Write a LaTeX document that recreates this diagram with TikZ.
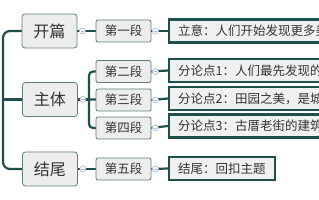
\documentclass[tikz,border=0pt]{standalone}
\usepackage{fontspec}
\newfontfamily\cjk{Noto Sans CJK SC}
\definecolor{branchcol}{HTML}{1F4F4A}
\definecolor{topicline}{HTML}{5E7D79}
\definecolor{topicfill}{HTML}{EDEDED}
\definecolor{pointfill}{HTML}{EEF1F0}
\definecolor{foldcol}{HTML}{A9B9D9}
\definecolor{textcol}{HTML}{333333}
\tikzset{
  part/.style={draw=topicline, fill=topicfill, rounded corners=3pt, line width=0.8pt,
    minimum width=55pt, minimum height=34pt, inner sep=0pt, text=textcol, font=\cjk\fontsize{16}{16}\selectfont},
  segbox/.style={draw=topicline, fill=topicfill, rounded corners=2pt, line width=0.8pt,
    minimum width=55pt, minimum height=22pt, inner sep=0pt, text=textcol, font=\cjk\fontsize{12.5}{12.5}\selectfont},
  pointbox/.style={draw=branchcol, fill=pointfill, line width=2.2pt, anchor=west,
    minimum height=23pt, inner xsep=9pt, inner ysep=0pt, text=textcol, font=\cjk\fontsize{12.5}{12.5}\selectfont},
  branch/.style={draw=branchcol, line width=2.2pt},
  foldmark/.style={circle, draw=foldcol, fill=white, line width=0.6pt, minimum size=6pt, inner sep=0pt,
    path picture={\draw[foldcol, line width=0.6pt] ([xshift=-1.8pt]path picture bounding box.center) -- ([xshift=1.8pt]path picture bounding box.center);}}
}
\begin{document}
\begin{tikzpicture}[x=1pt,y=-1pt]
  \useasboundingbox (0,0) rectangle (319,200);
  \clip (0,0) rectangle (319,200);
  \fill[white] (0,0) rectangle (319,200);

  \coordinate (trunk) at (3,99.5);
  \coordinate (fork) at (89,99.5);

  % points
  \node[pointbox] (p1) at (168,31) {立意：人们开始发现更多美};
  \node[pointbox] (p2) at (168,70.5) {分论点1：人们最先发现的美};
  \node[pointbox] (p3) at (168,98.5) {分论点2：田园之美，是城市};
  \node[pointbox] (p4) at (168,126) {分论点3：古厝老街的建筑};
  \node[pointbox] (p5) at (168,168.5) {结尾：回扣主题};

  % connectors (drawn before the boxes)
  \draw[branch, rounded corners=7pt] (49.5,31) -| (trunk) |- (50,169);
  \draw[branch] (trunk) -- (50,99.5);
  \draw[branch] (49.5,31) -- (123.5,31);
  \draw[branch] (50,169) -- (123.5,169);
  \draw[branch] (50,99.5) -- (fork);
  \draw[branch, rounded corners=4pt] (fork) |- (123.5,71.5);
  \draw[branch] (fork) -- (123.5,100);
  \draw[branch, rounded corners=4pt] (fork) |- (123.5,128);

  % main parts
  \node[part] (kaipian) at (49.5,31) {开篇};
  \node[part] (zhuti) at (50,99.5) {主体};
  \node[part] (jiewei) at (50,169) {结尾};

  % paragraphs
  \node[segbox] (d1) at (123.5,31) {第一段};
  \node[segbox] (d2) at (123.5,71.5) {第二段};
  \node[segbox] (d3) at (123.5,100) {第三段};
  \node[segbox] (d4) at (123.5,128) {第四段};
  \node[segbox] (d5) at (123.5,169) {第五段};

  \foreach \i in {1,...,5}
    \draw[branch] (d\i.east) -- (p\i.west);

  % fold marks
  \node[foldmark] (f0) at ([xshift=5pt]kaipian.east) {};
  \node[foldmark] (f6) at ([xshift=5pt]zhuti.east) {};
  \node[foldmark] (f7) at ([xshift=5pt]jiewei.east) {};
  \foreach \i in {1,...,5}
    \node[foldmark] (f\i) at ([xshift=4pt]d\i.east) {};
\end{tikzpicture}
\end{document}
